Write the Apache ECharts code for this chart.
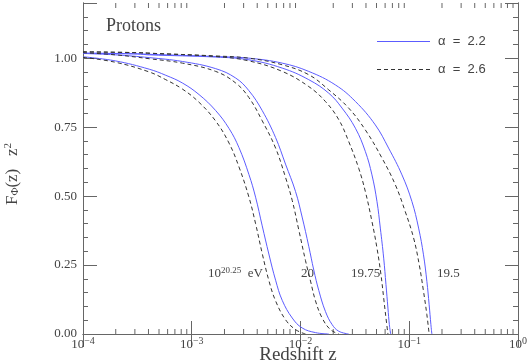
<!DOCTYPE html>
<html><head><meta charset="utf-8">
<script src="https://cdn.jsdelivr.net/npm/echarts@6/dist/echarts.min.js"></script>
<style>html,body{margin:0;padding:0;background:#fff}#c{width:530px;height:363px}</style>
</head><body><div id="c"></div><script>
// ---- data (log10 z, F(z) z^2) ----
const lgA22 = [-4, -3.7, -3.391, -3.239, -3.086, -2.933, -2.780, -2.657, -2.566, -2.474, -2.413, -2.352, -2.291, -2.229, -2.168, -2.076, -1.985, -1.862, -1.740];
const fA22  = [1.005, 0.99, 0.960, 0.938, 0.910, 0.868, 0.810, 0.745, 0.676, 0.578, 0.496, 0.392, 0.290, 0.195, 0.122, 0.058, 0.022, 0.005, 0];
const lgA26 = [-4, -3.7, -3.391, -3.239, -3.086, -2.933, -2.780, -2.657, -2.566, -2.474, -2.413, -2.352, -2.291, -2.229, -2.138, -2.046, -1.954];
const fA26  = [1.003, 0.985, 0.950, 0.922, 0.888, 0.840, 0.772, 0.692, 0.606, 0.496, 0.400, 0.292, 0.194, 0.120, 0.052, 0.016, 0];

const lgB22 = [-4, -3.7, -3.391, -3.086, -2.780, -2.596, -2.474, -2.352, -2.229, -2.138, -2.046, -1.985, -1.924, -1.878, -1.832, -1.771, -1.709, -1.648, -1.557];
const fB22  = [1.017, 1.012, 1.002, 0.988, 0.962, 0.928, 0.882, 0.810, 0.712, 0.616, 0.517, 0.424, 0.318, 0.232, 0.158, 0.082, 0.034, 0.010, 0];
const lgB26 = [-4, -3.7, -3.391, -3.086, -2.780, -2.596, -2.474, -2.352, -2.229, -2.138, -2.076, -2.015, -1.954, -1.908, -1.862, -1.801, -1.725, -1.648];
const fB26  = [1.020, 1.012, 0.998, 0.982, 0.952, 0.910, 0.857, 0.773, 0.674, 0.568, 0.484, 0.376, 0.266, 0.192, 0.120, 0.058, 0.016, 0];

const lgC22 = [-4, -3.5, -3.391, -2.780, -2.474, -2.168, -1.924, -1.740, -1.618, -1.495, -1.404, -1.343, -1.297, -1.266, -1.235, -1.214, -1.196, -1.183, -1.171];
const fC22  = [1.018, 1.015, 1.012, 1.004, 0.994, 0.964, 0.922, 0.873, 0.819, 0.746, 0.662, 0.577, 0.481, 0.384, 0.275, 0.179, 0.094, 0.034, 0];
const lgC26 = [-4, -3.5, -3.391, -2.780, -2.474, -2.168, -1.924, -1.771, -1.648, -1.557, -1.465, -1.404, -1.343, -1.297, -1.260, -1.235, -1.214, -1.196];
const fC26  = [1.023, 1.020, 1.018, 1.006, 0.990, 0.952, 0.897, 0.843, 0.777, 0.698, 0.601, 0.517, 0.408, 0.312, 0.215, 0.130, 0.058, 0];

const lgD22 = [-4, -3.5, -3.391, -2.780, -2.474, -2.168, -1.924, -1.679, -1.495, -1.312, -1.190, -1.067, -0.976, -0.914, -0.869, -0.838, -0.817, -0.801, -0.792];
const fD22  = [1.018, 1.016, 1.014, 1.006, 1.000, 0.982, 0.952, 0.903, 0.843, 0.758, 0.674, 0.577, 0.481, 0.384, 0.287, 0.191, 0.106, 0.034, 0];
const lgD26 = [-4, -3.5, -3.391, -2.780, -2.474, -2.168, -1.924, -1.740, -1.557, -1.404, -1.251, -1.128, -1.037, -0.960, -0.908, -0.869, -0.838, -0.817];
const fD26  = [1.023, 1.020, 1.018, 1.008, 1.000, 0.976, 0.940, 0.885, 0.819, 0.740, 0.638, 0.541, 0.444, 0.348, 0.251, 0.155, 0.070, 0];

const seriesNames = ['α = 2.2', 'α = 2.6'];
const curveLabels = ['20.25', '20', '19.75', '19.5'];
const yTicks = [0, 0.25, 0.5, 0.75, 1.0];
const minorDecades = [-4, -3, -2, -1];
const minorMults = [2, 3, 4, 5, 6, 7, 8, 9];

// ---- styles ----
const SERIF = '"Liberation Serif", "Times New Roman", serif';
const SANS = '"Liberation Sans", Arial, sans-serif';
const AX = '#666';
const TXT = '#444';
const BLUE = '#5c5cff';
const DARK = '#333';
const DASH = [4, 3];

const curves = [
  [lgA22, fA22, 0], [lgA26, fA26, 1],
  [lgB22, fB22, 0], [lgB26, fB26, 1],
  [lgC22, fC22, 0], [lgC26, fC26, 1],
  [lgD22, fD22, 0], [lgD26, fD26, 1]
];

const lineSeries = curves.map(([lg, f, k]) => ({
  type: 'line',
  name: seriesNames[k],
  data: lg.map((l, i) => [Math.pow(10, l), f[i]]),
  symbol: 'none', showSymbol: false,
  smooth: 0.4,
  silent: true, animation: false,
  z: k ? 3 : 2,
  itemStyle: { color: k ? DARK : BLUE },
  lineStyle: { color: k ? DARK : BLUE, width: 1, type: k ? DASH : 'solid' }
}));

const minorData = [];
minorDecades.forEach(d => minorMults.forEach(m => {
  const v = m * Math.pow(10, d);
  minorData.push([v, 0]);
  minorData.push([v, 1]);
}));

const tickSeries = {
  type: 'custom', silent: true, animation: false, clip: false,
  data: minorData, encode: { x: 0, y: 1 },
  renderItem: (params, api) => {
    const top = api.value(1) === 1;
    const p = api.coord([api.value(0), top ? 1.2 : 0]);
    return { type: 'line', shape: { x1: p[0], y1: p[1], x2: p[0], y2: p[1] + (top ? 5 : -5) },
      style: { stroke: AX, lineWidth: 1 } };
  }
};

const xLabelRich = {
  b: { fontSize: 13, fontFamily: SERIF, color: TXT },
  s: { fontSize: 10, fontFamily: SERIF, color: TXT, padding: [0, 0, 7, 0] }
};

function yAx(pos, interval, len, labels) {
  return {
    type: 'value', position: pos, min: 0, max: 1.2, interval: interval,
    axisLine: { show: true, lineStyle: { color: AX } },
    axisTick: { show: true, inside: true, length: len, lineStyle: { color: AX } },
    splitLine: { show: false },
    axisLabel: labels ? {
      show: true, margin: 6, fontSize: 13, fontFamily: SERIF, color: TXT,
      formatter: v => (yTicks.some(t => Math.abs(t - v) < 1e-6) ? v.toFixed(2) : '')
    } : { show: false }
  };
}

function xAx(pos, labels) {
  return {
    type: 'log', logBase: 10, min: 1e-4, max: 1, position: pos,
    axisLine: { show: true, lineStyle: { color: AX } },
    axisTick: { show: true, inside: true, length: 13, lineStyle: { color: AX } },
    splitLine: { show: false }, minorTick: { show: false },
    axisLabel: labels ? {
      show: true, margin: 2,
      formatter: v => '{b|10}{s|' + String(Math.round(Math.log10(v))).replace('-', '−') + '}',
      rich: xLabelRich
    } : { show: false }
  };
}

const legendText = n => n.replace(/ /g, '  ');

const chart = echarts.init(document.getElementById('c'), null, { renderer: 'canvas' });
chart.setOption({
  animation: false,
  backgroundColor: '#fff',
  grid: { left: 83, top: 3, width: 436, height: 331, containLabel: false },
  xAxis: [xAx('bottom', true), xAx('top', false)],
  yAxis: [yAx('left', 0.25, 14, true), yAx('left', 0.05, 5, false),
          yAx('right', 0.25, 13, false), yAx('right', 0.05, 5, false)],
  series: lineSeries.concat([tickSeries]),
  graphic: [
    // legend
    { type: 'line', silent: true, shape: { x1: 377, y1: 41.5, x2: 430, y2: 41.5 },
      style: { stroke: BLUE, lineWidth: 1 } },
    { type: 'text', x: 438, y: 41, silent: true,
      style: { text: legendText(seriesNames[0]), fontSize: 13, fontFamily: SANS, fill: TXT, align: 'left', verticalAlign: 'middle' } },
    { type: 'line', silent: true, shape: { x1: 377, y1: 69.5, x2: 430, y2: 69.5 },
      style: { stroke: DARK, lineWidth: 1, lineDash: DASH } },
    { type: 'text', x: 438, y: 69, silent: true,
      style: { text: legendText(seriesNames[1]), fontSize: 13, fontFamily: SANS, fill: TXT, align: 'left', verticalAlign: 'middle' } },
    // titles
    { type: 'text', x: 106, y: 26, silent: true,
      style: { text: 'Protons', fontSize: 18, fontFamily: SERIF, fill: TXT, align: 'left', verticalAlign: 'middle' } },
    { type: 'text', x: 298, y: 355, silent: true,
      style: { text: 'Redshift z', fontSize: 19, fontFamily: SERIF, fill: TXT, align: 'center', verticalAlign: 'middle' } },
    { type: 'text', x: 15, y: 174, rotation: Math.PI / 2, silent: true,
      style: { text: '{f|F}{s|Φ}{f|(z)   z}{p|2}', align: 'center', verticalAlign: 'middle',
        rich: {
          f: { fontSize: 17, fontFamily: SERIF, fill: TXT, padding: [0, 0, 4, 0] },
          s: { fontSize: 11, fontFamily: SERIF, fill: TXT },
          p: { fontSize: 11, fontFamily: SERIF, fill: TXT, padding: [0, 0, 13, 0] }
        } } },
    // curve labels
    { type: 'text', x: 208, y: 274, silent: true,
      style: { text: '{b|10}{s|' + curveLabels[0] + '}{b|  eV}', align: 'left', verticalAlign: 'middle',
        rich: {
          b: { fontSize: 13, fontFamily: SERIF, fill: TXT },
          s: { fontSize: 9, fontFamily: SERIF, fill: TXT, padding: [0, 0, 7, 0] }
        } } },
    { type: 'text', x: 301, y: 274, silent: true,
      style: { text: curveLabels[1], fontSize: 13, fontFamily: SERIF, fill: TXT, align: 'left', verticalAlign: 'middle' } },
    { type: 'text', x: 351, y: 274, silent: true,
      style: { text: curveLabels[2], fontSize: 13, fontFamily: SERIF, fill: TXT, align: 'left', verticalAlign: 'middle' } },
    { type: 'text', x: 437, y: 274, silent: true,
      style: { text: curveLabels[3], fontSize: 13, fontFamily: SERIF, fill: TXT, align: 'left', verticalAlign: 'middle' } }
  ]
});
</script></body></html>
